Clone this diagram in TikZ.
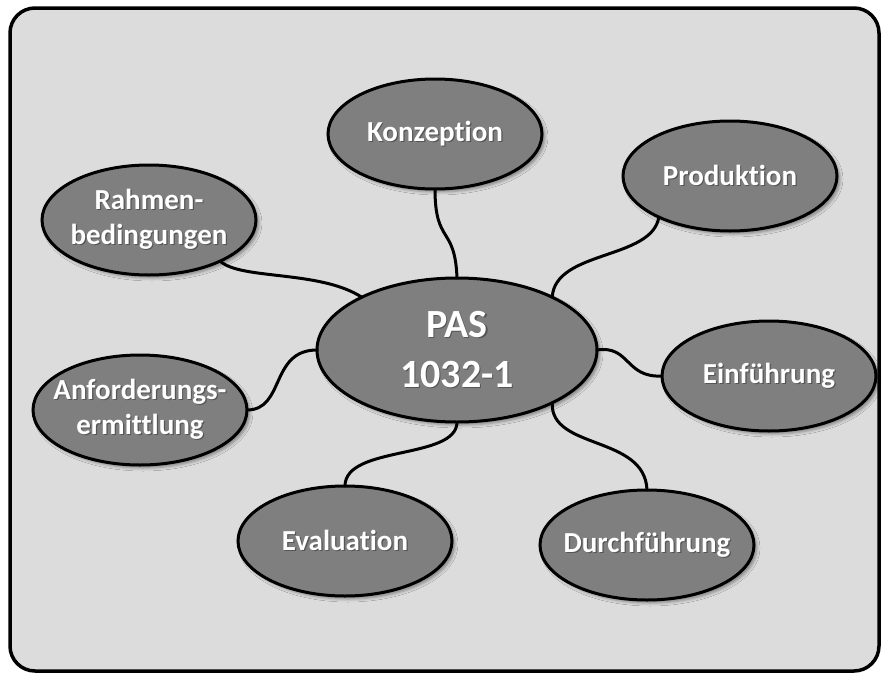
\documentclass[tikz,border=0pt]{standalone}
\usepackage{fontspec}
\setmainfont[Ligatures=NoCommon]{Carlito}
\usetikzlibrary{shapes.geometric,shadows.blur}

\definecolor{panelgray}{HTML}{DCDCDC}
\definecolor{bubblegray}{HTML}{7F7F7F}
\definecolor{txtshadow}{HTML}{555555}

% one centred line of white text with a dark offset copy behind it
\newcommand{\shtxt}[1]{\makebox[0pt][c]{\makebox[0pt][l]{\raisebox{-1.2pt}{\hspace{1.2pt}\textcolor{txtshadow}{#1}}}#1}}

\begin{document}
\begin{tikzpicture}[x=1pt,y=-1pt,
  bubble/.style={ellipse, draw=black, line width=3pt, fill=bubblegray,
    inner sep=0pt, outer sep=0pt, minimum width=214pt, minimum height=110pt,
    text=white, align=center, font=\fontsize{29}{35}\selectfont\bfseries,
    blur shadow={shadow xshift=3pt, shadow yshift=-3pt, shadow blur radius=3pt}},
  hub/.style={bubble, minimum width=280pt, minimum height=144pt,
    font=\fontsize{40}{50}\selectfont\bfseries},
  link/.style={line width=3pt, line cap=round}]

\useasboundingbox (0,0) rectangle (884,675);

% panel
\draw[fill=panelgray, line width=3.5pt, rounded corners=25pt] (10,8) rectangle (879,671);

% topic bubbles
\node[hub]    (pas)   at (457,350) {\shtxt{PAS}\\\shtxt{1032-1}};
\node[bubble] (konz)  at (435,134) {\shtxt{Konzeption}};
\node[bubble] (prod)  at (730,176) {\shtxt{Produktion}};
\node[bubble] (rahm)  at (149,220) {\shtxt{Rahmen-}\\\shtxt{bedingungen}};
\node[bubble] (einf)  at (769,376) {\shtxt{Einführung}};
\node[bubble] (anf)   at (140,410) {\shtxt{Anforderungs-}\\\shtxt{ermittlung}};
\node[bubble] (eval)  at (345,541) {\shtxt{Evaluation}};
\node[bubble] (durch) at (647,545) {\shtxt{Durchführung}};

% wavy connectors to the hub
\draw[link] (konz.south) .. controls (435,245) and (455,225) .. (pas.north);
\draw[link] (prod.210) .. controls (652,260) and (555,250) .. (pas.29);
\draw[link] (rahm.330) .. controls (240,280) and (320,270) .. (pas.151);
\draw[link] (anf.east) .. controls (285,410) and (270,350) .. (pas.west);
\draw[link] (pas.east) .. controls (630,345) and (625,378) .. (einf.west);
\draw[link] (pas.331) .. controls (550,450) and (645,435) .. (durch.north);
\draw[link] (eval.north) .. controls (345,445) and (457,460) .. (pas.south);
\end{tikzpicture}
\end{document}
